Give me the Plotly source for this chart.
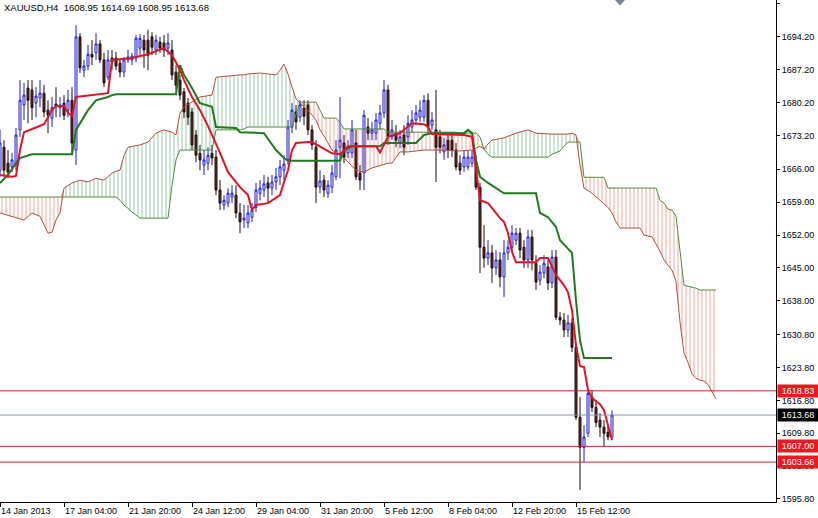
import plotly.graph_objects as go

# ---------------- data (XAUUSD H4) ----------------
opens = [
    1665.8, 1670.7, 1667.3, 1666.5, 1666.9, 1674.4, 1679.7, 1683.3, 1682.9, 1680.1,
    1681.2, 1682.2, 1678.6, 1676.9, 1679.9, 1679.1, 1680.1, 1678.6, 1680.7, 1670.1,
    1694.2, 1687.1, 1688.0, 1690.5, 1690.8, 1692.7, 1689.3, 1685.6, 1689.7, 1689.7,
    1688.6, 1686.7, 1689.3, 1689.3, 1689.7, 1691.8, 1693.5, 1693.5, 1694.2, 1691.4,
    1693.1, 1692.9, 1691.8, 1691.4, 1686.7, 1685.0, 1682.5, 1680.1, 1678.2, 1673.3,
    1669.4, 1666.9, 1667.3, 1669.4, 1668.6, 1661.6, 1658.4, 1658.8, 1660.1, 1660.5,
    1656.7, 1655.2, 1654.6, 1655.8, 1657.9, 1660.9, 1661.6, 1663.1, 1662.0, 1663.3,
    1664.4, 1665.8, 1668.0, 1675.0, 1678.2, 1677.1, 1679.0, 1679.7, 1674.4, 1670.7,
    1662.2, 1663.7, 1660.9, 1662.2, 1664.4, 1670.7, 1671.6, 1669.5, 1669.5, 1671.6,
    1665.2, 1665.2, 1675.0, 1673.7, 1673.7, 1675.8, 1678.0, 1682.9, 1672.9, 1673.7,
    1671.8, 1673.3, 1672.9, 1675.0, 1676.5, 1677.1, 1677.1, 1680.7, 1675.4, 1674.4,
    1672.9, 1669.7, 1672.2, 1672.2, 1670.1, 1667.3, 1666.5, 1666.5, 1667.3, 1667.3,
    1662.2, 1649.4, 1647.1, 1648.2, 1645.0, 1646.7, 1643.1, 1648.2, 1649.4, 1650.9,
    1652.4, 1649.4, 1646.7, 1651.6, 1646.0, 1642.4, 1643.9, 1645.2, 1641.8, 1647.3,
    1634.5, 1633.9, 1631.8, 1633.3, 1628.1, 1613.2, 1606.8, 1609.8, 1617.5, 1615.3,
    1612.6, 1611.1, 1610.0, 1608.95]

highs = [
    1674.4, 1672.2, 1670.1, 1669.5, 1674.8, 1685.0, 1684.4, 1685.0, 1685.0, 1683.5,
    1685.0, 1684.0, 1680.7, 1681.4, 1683.5, 1681.4, 1681.8, 1682.9, 1683.5, 1696.7,
    1695.0, 1689.3, 1692.5, 1693.5, 1695.0, 1693.5, 1690.8, 1691.4, 1691.4, 1691.0,
    1689.3, 1689.9, 1691.4, 1690.8, 1694.6, 1694.8, 1694.6, 1695.7, 1695.2, 1694.6,
    1694.2, 1694.6, 1695.0, 1693.5, 1688.2, 1686.1, 1683.3, 1681.2, 1679.1, 1674.4,
    1671.2, 1670.1, 1670.7, 1671.2, 1670.1, 1663.7, 1660.5, 1662.0, 1662.6, 1662.6,
    1658.8, 1658.4, 1658.4, 1658.8, 1663.1, 1663.7, 1664.8, 1664.4, 1664.8, 1666.3,
    1668.0, 1669.0, 1676.5, 1680.1, 1679.7, 1680.7, 1680.7, 1680.7, 1675.4, 1672.2,
    1665.8, 1664.8, 1663.7, 1666.9, 1672.2, 1681.4, 1673.3, 1672.2, 1676.5, 1674.4,
    1666.9, 1678.6, 1676.9, 1676.1, 1678.0, 1679.7, 1685.0, 1684.0, 1676.5, 1675.4,
    1674.4, 1675.4, 1677.5, 1678.6, 1679.7, 1680.7, 1681.8, 1682.2, 1678.2, 1682.9,
    1674.4, 1672.7, 1673.7, 1673.7, 1671.6, 1669.0, 1670.1, 1670.1, 1670.1, 1669.0,
    1663.1, 1654.1, 1650.9, 1649.9, 1648.8, 1648.4, 1650.9, 1650.9, 1654.1, 1653.5,
    1653.5, 1650.9, 1653.1, 1653.1, 1647.7, 1645.6, 1647.7, 1646.7, 1648.8, 1648.8,
    1635.6, 1635.4, 1635.0, 1634.3, 1629.0, 1617.5, 1611.5, 1619.0, 1619.0, 1616.9,
    1614.1, 1612.6, 1611.5, 1614.69]

lows = [
    1664.4, 1664.4, 1664.1, 1665.4, 1665.8, 1672.9, 1676.5, 1675.8, 1676.5, 1677.1,
    1679.2, 1677.1, 1673.7, 1675.0, 1677.1, 1677.1, 1676.5, 1677.1, 1669.5, 1666.9,
    1686.5, 1685.6, 1687.1, 1688.2, 1689.3, 1688.6, 1683.5, 1685.0, 1687.1, 1687.1,
    1685.6, 1685.6, 1688.6, 1688.2, 1688.8, 1689.9, 1687.6, 1687.1, 1690.3, 1690.3,
    1690.8, 1689.9, 1690.3, 1685.0, 1682.9, 1680.7, 1676.9, 1675.4, 1670.1, 1667.5,
    1665.8, 1664.8, 1665.8, 1666.9, 1660.5, 1657.3, 1657.3, 1657.9, 1658.8, 1655.6,
    1652.4, 1653.5, 1653.5, 1654.8, 1656.9, 1659.4, 1660.1, 1658.8, 1660.5, 1661.6,
    1662.6, 1663.7, 1666.9, 1673.7, 1674.4, 1676.1, 1675.4, 1673.3, 1670.1, 1658.8,
    1660.9, 1660.1, 1659.9, 1660.9, 1663.7, 1664.1, 1667.3, 1668.4, 1668.4, 1663.7,
    1661.6, 1661.6, 1672.2, 1672.2, 1672.2, 1674.4, 1676.9, 1671.2, 1672.2, 1670.7,
    1670.5, 1669.0, 1671.2, 1673.7, 1675.4, 1676.1, 1676.1, 1673.7, 1674.4, 1663.3,
    1669.4, 1668.0, 1668.4, 1668.6, 1665.8, 1664.8, 1665.4, 1665.8, 1666.5, 1661.6,
    1643.9, 1645.0, 1645.6, 1641.8, 1643.5, 1640.9, 1638.8, 1646.7, 1648.4, 1649.9,
    1647.1, 1645.0, 1645.0, 1644.5, 1640.3, 1641.3, 1642.8, 1640.3, 1640.7, 1633.9,
    1632.8, 1630.3, 1630.3, 1627.1, 1612.6, 1597.7, 1603.6, 1609.0, 1614.3, 1611.1,
    1609.0, 1607.0, 1608.3, 1608.95]

closes = [
    1671.6, 1665.8, 1665.4, 1668.0, 1673.3, 1680.7, 1681.8, 1680.7, 1679.1, 1681.6,
    1682.2, 1678.2, 1677.5, 1679.1, 1679.5, 1679.7, 1677.5, 1680.7, 1671.6, 1694.2,
    1687.6, 1688.0, 1690.5, 1689.9, 1692.7, 1689.3, 1684.4, 1689.3, 1688.8, 1688.0,
    1686.7, 1689.3, 1689.9, 1690.1, 1693.9, 1693.9, 1691.4, 1690.3, 1692.0, 1693.5,
    1691.8, 1691.4, 1692.9, 1686.1, 1683.9, 1681.8, 1678.2, 1677.1, 1671.2, 1669.0,
    1668.0, 1668.0, 1669.0, 1668.4, 1661.6, 1658.8, 1659.4, 1660.9, 1660.9, 1656.7,
    1654.8, 1655.6, 1656.7, 1657.3, 1661.6, 1662.0, 1662.9, 1662.0, 1663.3, 1664.4,
    1666.5, 1667.1, 1675.0, 1678.6, 1676.1, 1679.7, 1677.3, 1674.4, 1671.2, 1662.2,
    1663.5, 1661.6, 1662.6, 1665.2, 1670.1, 1672.2, 1668.6, 1670.7, 1674.4, 1664.4,
    1663.7, 1677.5, 1673.7, 1674.4, 1676.5, 1678.0, 1682.9, 1672.9, 1674.4, 1672.2,
    1672.9, 1670.7, 1675.8, 1676.5, 1678.0, 1678.6, 1680.7, 1675.0, 1676.5, 1670.7,
    1670.7, 1671.2, 1670.1, 1670.1, 1666.5, 1665.8, 1668.6, 1668.6, 1668.6, 1662.2,
    1649.4, 1647.1, 1648.2, 1645.0, 1646.7, 1643.1, 1648.2, 1649.4, 1652.4, 1652.4,
    1648.8, 1646.7, 1651.6, 1646.7, 1642.0, 1644.1, 1646.0, 1641.8, 1647.3, 1634.5,
    1633.9, 1631.8, 1633.3, 1628.1, 1613.2, 1606.8, 1609.0, 1618.3, 1615.3, 1612.1,
    1611.1, 1609.8, 1609.0, 1613.68]

n_bars = min(len(opens), len(highs), len(lows), len(closes))
bars = list(range(n_bars))

# Tenkan-sen (red)
tenkan_bars = [0, 2, 3, 4, 5, 6, 8, 11, 13, 14, 16, 17, 18, 19, 27, 28, 33, 37, 41, 42,
               43, 44, 45, 46, 48, 50, 52, 55, 57, 60, 62, 63, 64, 67, 70, 71, 72, 73, 74, 77,
               78, 83, 85, 87, 94, 95, 97, 100, 103, 106, 107, 108, 116, 118, 119, 120, 122, 123, 125, 126,
               127, 128, 129, 134, 135, 137, 138, 139, 141, 142, 143, 144, 145, 146, 147, 148, 149, 150, 151, 152,
               153]
tenkan_vals = [1664.8, 1664.6, 1664.4, 1664.6, 1670.1, 1673.9, 1674.6, 1675.6, 1678.6, 1679.5,
               1679.5, 1678.0, 1677.3, 1681.4, 1682.2, 1689.3, 1689.7, 1690.5, 1691.8, 1691.0,
               1690.3, 1688.8, 1687.1, 1685.0, 1681.4, 1678.6, 1675.2, 1669.5, 1665.4, 1662.2,
               1660.5, 1657.3, 1658.4, 1658.8, 1660.5, 1663.3, 1665.8, 1670.1, 1671.6, 1671.8,
               1671.8, 1669.4, 1669.2, 1670.9, 1670.9, 1669.6, 1672.9, 1673.7, 1675.8, 1675.6,
               1675.0, 1673.5, 1673.3, 1672.9, 1665.8, 1659.4, 1658.8, 1657.7, 1655.6, 1654.8,
               1652.4, 1648.4, 1646.2, 1646.2, 1647.1, 1647.1, 1645.4, 1643.5, 1641.3, 1639.8,
               1636.0, 1628.5, 1624.1, 1623.9, 1619.0, 1617.3, 1616.6, 1616.0, 1614.7, 1611.5,
               1608.3]

# Kijun-sen (green)
kijun_bars = [0, 2, 4, 5, 8, 18, 19, 20, 22, 24, 27, 28, 29, 44, 45, 46, 48, 50, 53, 54,
              59, 60, 66, 69, 71, 72, 85, 86, 88, 95, 96, 104, 106, 108, 116, 117, 118, 119, 120, 122,
              124, 126, 134, 135, 137, 139, 140, 142, 143, 144, 145, 146, 153]
kijun_vals = [1663.1, 1664.8, 1667.3, 1668.4, 1669.2, 1669.2, 1674.4, 1675.8, 1678.6, 1680.7,
              1681.4, 1681.8, 1682.0, 1682.0, 1688.2, 1686.1, 1683.3, 1680.1, 1679.3, 1675.0,
              1674.8, 1673.9, 1673.7, 1670.1, 1668.4, 1667.8, 1667.8, 1670.1, 1670.9, 1670.9,
              1671.6, 1671.6, 1673.3, 1673.7, 1673.7, 1674.4, 1673.7, 1668.0, 1664.4, 1663.1,
              1662.0, 1660.9, 1660.9, 1656.7, 1655.8, 1653.7, 1650.9, 1649.2, 1648.2, 1638.1,
              1629.6, 1625.8, 1625.8]

# Senkou span A / B (cloud), shifted 26 bars ahead
cloud_bars = [0, 2, 5, 6, 8, 10, 12, 13, 14, 15, 16, 18, 20, 22, 24, 26, 28, 29, 30, 31,
              32, 33, 35, 37, 39, 41, 42, 43, 44, 45, 46, 48, 50, 53, 54, 60, 61, 62, 65, 69,
              70, 71, 72, 73, 74, 75, 76, 77, 78, 79, 80, 81, 82, 83, 84, 85, 86, 89, 91, 93,
              96, 97, 98, 100, 102, 106, 110, 114, 115, 118, 119, 120, 121, 122, 123, 126, 129, 132, 134, 137,
              138, 140, 141, 142, 143, 144, 145, 146, 148, 149, 151, 152, 153, 154, 155, 160, 161, 163, 164, 165,
              166, 167, 168, 169, 170, 171, 172, 173, 174, 175, 176, 177, 178, 179]
span_a = [1656.7, 1656.2, 1655.6, 1655.2, 1656.7, 1656.0, 1652.4, 1652.6, 1655.2, 1656.7,
          1662.0, 1663.1, 1663.7, 1663.3, 1664.1, 1663.7, 1665.2, 1665.6, 1665.8, 1669.0,
          1670.7, 1670.9, 1671.2, 1671.8, 1673.7, 1674.4, 1674.1, 1673.9, 1673.3, 1678.0,
          1679.3, 1680.3, 1681.4, 1681.8, 1685.6, 1686.1, 1686.1, 1686.3, 1686.5, 1686.1,
          1687.1, 1688.4, 1686.3, 1683.5, 1681.0, 1680.1, 1679.3, 1678.4, 1677.6, 1676.5,
          1674.4, 1673.1, 1671.6, 1670.1, 1669.5, 1669.0, 1668.4, 1665.8, 1665.4, 1666.3,
          1667.1, 1667.3, 1667.3, 1669.7, 1669.7, 1670.1, 1670.1, 1669.9, 1669.9, 1670.1,
          1670.5, 1670.9, 1670.3, 1671.4, 1672.2, 1672.7, 1673.7, 1674.4, 1673.7, 1673.5,
          1673.5, 1673.5, 1673.5, 1673.5, 1673.7, 1673.3, 1666.9, 1662.0, 1660.9, 1660.1,
          1658.6, 1657.9, 1656.7, 1654.8, 1653.5, 1653.5, 1652.0, 1651.6, 1650.1, 1648.6,
          1646.7, 1645.6, 1644.5, 1642.2, 1633.5, 1626.9, 1624.9, 1622.4, 1621.5, 1621.1,
          1620.9, 1620.2, 1618.8, 1617.1]
span_b = [1660.1, 1660.1, 1660.1, 1660.1, 1660.1, 1660.1, 1660.1, 1660.1, 1660.1, 1660.1,
          1660.1, 1660.1, 1660.1, 1660.1, 1660.1, 1660.1, 1660.1, 1660.1, 1659.4, 1658.4,
          1657.7, 1656.9, 1655.6, 1655.6, 1655.6, 1655.6, 1655.6, 1662.6, 1668.0, 1670.1,
          1670.1, 1670.1, 1670.1, 1670.1, 1674.4, 1674.4, 1674.6, 1675.0, 1675.0, 1675.0,
          1675.0, 1675.0, 1675.0, 1675.0, 1677.6, 1680.3, 1680.3, 1680.3, 1680.3, 1680.3,
          1678.6, 1676.9, 1676.9, 1676.9, 1676.9, 1676.0, 1674.6, 1674.6, 1674.6, 1674.6,
          1674.6, 1673.9, 1673.9, 1673.9, 1673.9, 1673.9, 1673.9, 1673.9, 1673.7, 1673.7,
          1673.7, 1672.9, 1670.3, 1669.2, 1668.6, 1668.6, 1668.6, 1668.6, 1668.6, 1668.6,
          1669.2, 1669.9, 1670.9, 1671.8, 1671.8, 1671.8, 1671.8, 1664.3, 1664.3, 1664.3,
          1664.3, 1662.0, 1662.0, 1662.0, 1662.0, 1662.0, 1662.0, 1662.0, 1662.0, 1659.4,
          1658.8, 1657.5, 1657.3, 1656.0, 1648.8, 1641.3, 1641.1, 1640.9, 1640.7, 1640.3,
          1640.3, 1640.3, 1640.3, 1640.3]

x_tick_bars = [0, 16, 32, 48, 64, 80, 96, 112, 128, 144]
x_tick_labels = ["14 Jan 2013", "17 Jan 04:00", "21 Jan 20:00", "24 Jan 12:00",
                 "29 Jan 04:00", "31 Jan 20:00", "5 Feb 12:00", "8 Feb 04:00",
                 "12 Feb 20:00", "15 Feb 12:00"]
y_tick_vals = [1701.20, 1694.20, 1687.20, 1680.20, 1673.20, 1666.00, 1659.00, 1652.00,
               1645.00, 1638.00, 1630.80, 1623.80, 1616.80, 1609.80, 1602.80, 1595.80]

level_prices = [1618.83, 1607.00, 1603.66]
last_price = closes[n_bars - 1]
symbol_label = "XAUUSD,H4"

# ---------------- styling ----------------
FONT = "Liberation Sans, Arial, sans-serif"
FS = 9
C_BULL = "#1a1ad0"
C_BEAR_LINE = "#1c0c0c"
C_BEAR_FILL = "#76231c"
C_TENKAN = "#e01428"
C_KIJUN = "#1d7a1d"
C_SPAN_A = "#b0503a"
C_SPAN_B = "#4a8f3a"
C_HATCH_UP = "#2f8f4f"
C_HATCH_DN = "#cc4d35"
C_LEVEL = "#c0282a"
C_LAST = "#8a96a6"

fig = go.Figure()

cloud_top = [max(a, b) for a, b in zip(span_a, span_b)]

hatch = dict(shape="|", bgcolor="rgba(0,0,0,0)", size=4, solidity=0.22, fgopacity=0.55)

# bullish cloud (A above B)
fig.add_trace(go.Scatter(x=cloud_bars, y=span_b, mode="lines",
                         line=dict(color=C_SPAN_B, width=1), hoverinfo="skip"))
fig.add_trace(go.Scatter(x=cloud_bars, y=cloud_top, mode="lines",
                         line=dict(width=0), fill="tonexty",
                         fillcolor="rgba(0,0,0,0)",
                         fillpattern=dict(fgcolor=C_HATCH_UP, **hatch),
                         hoverinfo="skip"))
# bearish cloud (B above A)
fig.add_trace(go.Scatter(x=cloud_bars, y=span_a, mode="lines",
                         line=dict(color=C_SPAN_A, width=1), hoverinfo="skip"))
fig.add_trace(go.Scatter(x=cloud_bars, y=cloud_top, mode="lines",
                         line=dict(width=0), fill="tonexty",
                         fillcolor="rgba(0,0,0,0)",
                         fillpattern=dict(fgcolor=C_HATCH_DN, **hatch),
                         hoverinfo="skip"))

fig.add_trace(go.Candlestick(
    x=bars, open=opens[:n_bars], high=highs[:n_bars], low=lows[:n_bars], close=closes[:n_bars],
    increasing=dict(line=dict(color=C_BULL, width=1), fillcolor="#ffffff"),
    decreasing=dict(line=dict(color=C_BEAR_LINE, width=1), fillcolor=C_BEAR_FILL),
    whiskerwidth=0, hoverinfo="skip"))

fig.add_trace(go.Scatter(x=kijun_bars, y=kijun_vals, mode="lines",
                         line=dict(color=C_KIJUN, width=2), hoverinfo="skip"))
fig.add_trace(go.Scatter(x=tenkan_bars, y=tenkan_vals, mode="lines",
                         line=dict(color=C_TENKAN, width=2), hoverinfo="skip"))

shapes = []
for lv in level_prices:
    shapes.append(dict(type="line", xref="paper", x0=0, x1=1, yref="y", y0=lv, y1=lv,
                       line=dict(color=C_LEVEL, width=1)))
shapes.append(dict(type="line", xref="paper", x0=0, x1=1, yref="y", y0=last_price, y1=last_price,
                   line=dict(color=C_LAST, width=1)))
# chart-shift marker at the top
shapes.append(dict(type="path", xref="paper", yref="paper",
                   path="M 0.7925 1 L 0.8055 1 L 0.799 0.989 Z",
                   fillcolor="#7d8590", line=dict(width=0)))

annotations = []
for lv in level_prices:
    annotations.append(dict(xref="paper", x=1, xanchor="left", xshift=1,
                            yref="y", y=lv, yanchor="middle", showarrow=False,
                            text=f"{lv:.2f}", bgcolor="#e8191f", width=38, align="center",
                            font=dict(family=FONT, size=FS, color="#ffffff"),
                            borderpad=1))
annotations.append(dict(xref="paper", x=1, xanchor="left", xshift=1,
                        yref="y", y=last_price, yanchor="middle", showarrow=False,
                        text=f"{last_price:.2f}", bgcolor="#000000", width=38, align="center",
                        font=dict(family=FONT, size=FS, color="#ffffff"),
                        borderpad=1))
annotations.append(dict(xref="paper", x=0, xanchor="left", xshift=2,
                        yref="paper", y=1, yanchor="top", yshift=0, showarrow=False,
                        text=f"{symbol_label}  {opens[-1]:.2f} {highs[-1]:.2f} "
                             f"{lows[-1]:.2f} {closes[-1]:.2f}",
                        font=dict(family=FONT, size=9.5, color="#000000")))

fig.update_layout(
    width=818, height=518,
    margin=dict(l=0, r=42, t=0, b=16, autoexpand=False),
    paper_bgcolor="#ffffff", plot_bgcolor="#ffffff",
    showlegend=False,
    shapes=shapes, annotations=annotations,
    xaxis=dict(range=[0, 194], showgrid=False, zeroline=False,
               showline=True, linecolor="#000000", linewidth=1,
               ticks="outside", ticklen=4, tickcolor="#000000",
               tickvals=x_tick_bars, ticktext=x_tick_labels,
               ticklabelposition="outside right", tickangle=0, automargin=False,
               tickfont=dict(family=FONT, size=FS, color="#000000"),
               rangeslider=dict(visible=False), fixedrange=True),
    yaxis=dict(side="right", range=[1595.16, 1702.05], showgrid=False, zeroline=False,
               showline=True, linecolor="#000000", linewidth=1,
               ticks="outside", ticklen=3, tickcolor="#000000",
               tickvals=y_tick_vals, ticktext=[f"{v:.2f}" for v in y_tick_vals],
               automargin=False,
               tickfont=dict(family=FONT, size=FS, color="#000000"),
               fixedrange=True),
)

fig.write_html("out.html",
               config={"displayModeBar": False, "staticPlot": True},
               post_script="document.body.style.margin='0';"
                           "document.body.style.overflow='hidden';")
